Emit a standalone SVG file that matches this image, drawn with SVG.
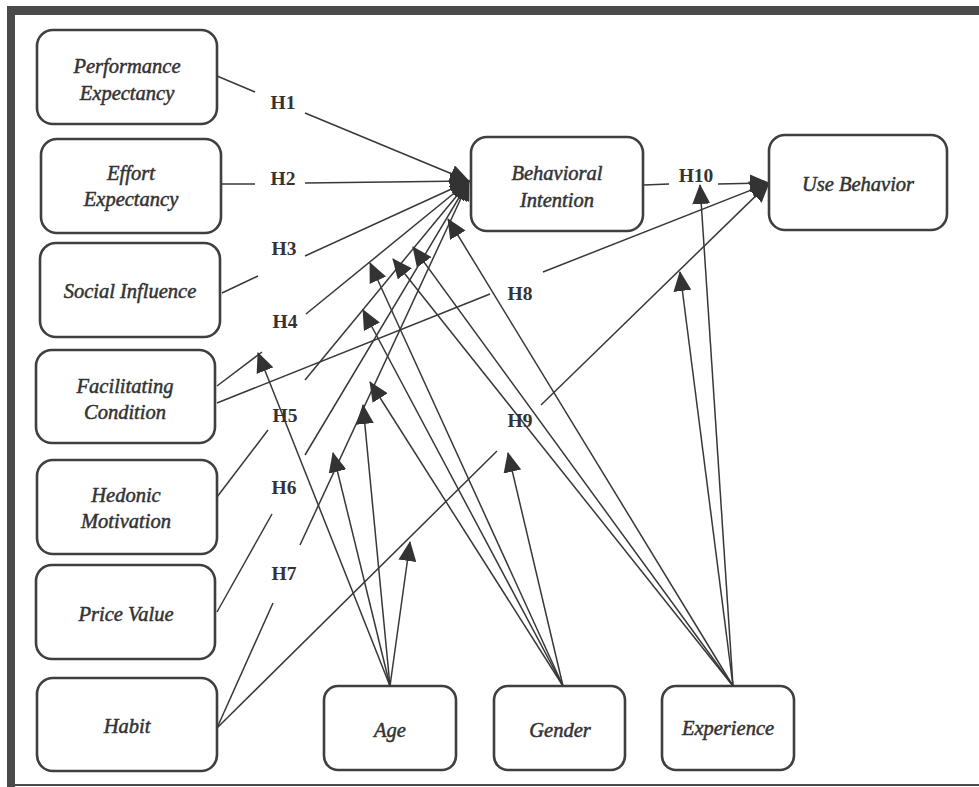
<svg xmlns="http://www.w3.org/2000/svg" width="979" height="787" viewBox="0 0 979 787">
<defs>
<style>
.box{fill:#fff;stroke:#3f3f3f;stroke-width:2.6}
.t{font-family:"Liberation Serif","Times New Roman",serif;font-style:italic;font-size:20.5px;fill:#333;text-anchor:middle;stroke:#333;stroke-width:0.5}
.h{font-family:"Liberation Serif","Times New Roman",serif;font-weight:bold;font-size:19.5px;fill:#333;text-anchor:middle}
.c line{stroke:#383838;stroke-width:1.5;fill:none}
.c .a{marker-end:url(#ah)}
</style>
<marker id="ah" markerWidth="20" markerHeight="18" refX="19" refY="9" orient="auto" markerUnits="userSpaceOnUse"><path d="M0,0 L20,9 L0,18 z" fill="#333"/></marker>
</defs>
<rect x="0" y="0" width="979" height="787" fill="#fff"/>
<g id="frame" fill="#4a4a4a">
<rect x="7" y="6" width="972" height="9"/>
<rect x="7" y="6" width="8" height="781"/>
<rect x="7" y="784" width="972" height="2"/>
</g>
<g id="connectors" class="c">
<line x1="217" y1="76" x2="255" y2="92"/>
<line x1="221" y1="184" x2="255" y2="184"/>
<line x1="222" y1="293" x2="258" y2="276"/>
<line x1="217" y1="386" x2="262" y2="352"/>
<line x1="217" y1="403" x2="490" y2="294"/>
<line x1="217" y1="497" x2="268" y2="430"/>
<line x1="217" y1="612" x2="272" y2="514"/>
<line x1="217" y1="728" x2="273" y2="603"/>
<line x1="217" y1="728" x2="497" y2="451"/>
<line x1="644" y1="185" x2="669" y2="184"/>
<line class="a" x1="305" y1="113" x2="469" y2="181"/>
<line class="a" x1="305" y1="183" x2="469" y2="181"/>
<line class="a" x1="305" y1="256" x2="469" y2="181"/>
<line class="a" x1="306" y1="314" x2="469" y2="181"/>
<line class="a" x1="305" y1="380" x2="469" y2="181"/>
<line class="a" x1="305" y1="455" x2="469" y2="181"/>
<line class="a" x1="300" y1="545" x2="469" y2="181"/>
<line class="a" x1="543" y1="272" x2="769" y2="183"/>
<line class="a" x1="541" y1="405" x2="769" y2="183"/>
<line class="a" x1="718" y1="184" x2="769" y2="183"/>
<line class="a" x1="390" y1="686" x2="258" y2="353"/>
<line class="a" x1="390" y1="686" x2="333" y2="453"/>
<line class="a" x1="390" y1="686" x2="363" y2="405"/>
<line class="a" x1="390" y1="686" x2="410" y2="542"/>
<line class="a" x1="563" y1="686" x2="370" y2="382"/>
<line class="a" x1="563" y1="686" x2="363" y2="310"/>
<line class="a" x1="563" y1="686" x2="370" y2="263"/>
<line class="a" x1="563" y1="686" x2="508" y2="453"/>
<line class="a" x1="733" y1="686" x2="393" y2="259"/>
<line class="a" x1="733" y1="686" x2="413" y2="247"/>
<line class="a" x1="733" y1="686" x2="448" y2="219"/>
<line class="a" x1="733" y1="686" x2="680" y2="272"/>
<line class="a" x1="733" y1="686" x2="700" y2="185"/>
</g>
<g id="labels">
<text class="h" x="283" y="109">H1</text>
<text class="h" x="283" y="185">H2</text>
<text class="h" x="284" y="255">H3</text>
<text class="h" x="285" y="328">H4</text>
<text class="h" x="285" y="422">H5</text>
<text class="h" x="284" y="494">H6</text>
<text class="h" x="284" y="580">H7</text>
<text class="h" x="520" y="300">H8</text>
<text class="h" x="520" y="427" font-weight="normal">H9</text>
<text class="h" x="696" y="182">H10</text>
</g>
<g id="pe"><rect class="box" x="37" y="30" width="180" height="94" rx="16"/><text class="t" x="127" y="73">Performance</text><text class="t" x="127" y="100">Expectancy</text></g>
<g id="ee"><rect class="box" x="41" y="139" width="180" height="94" rx="16"/><text class="t" x="131" y="180">Effort</text><text class="t" x="131" y="206">Expectancy</text></g>
<g id="si"><rect class="box" x="40" y="243" width="180" height="94" rx="16"/><text class="t" x="130" y="298">Social Influence</text></g>
<g id="fc"><rect class="box" x="36" y="350" width="179" height="93" rx="16"/><text class="t" x="125" y="393">Facilitating</text><text class="t" x="125" y="419">Condition</text></g>
<g id="hm"><rect class="box" x="37" y="460" width="180" height="94" rx="16"/><text class="t" x="126" y="502">Hedonic</text><text class="t" x="126" y="528">Motivation</text></g>
<g id="pv"><rect class="box" x="36" y="565" width="179" height="94" rx="16"/><text class="t" x="126" y="621">Price Value</text></g>
<g id="hb"><rect class="box" x="37" y="678" width="180" height="93" rx="16"/><text class="t" x="127" y="733">Habit</text></g>
<g id="bi"><rect class="box" x="471" y="137" width="172" height="94" rx="16"/><text class="t" x="557" y="180">Behavioral</text><text class="t" x="557" y="207">Intention</text></g>
<g id="ub"><rect class="box" x="769" y="135" width="178" height="95" rx="16"/><text class="t" x="858" y="191">Use Behavior</text></g>
<g id="age"><rect class="box" x="324" y="686" width="132" height="84" rx="14"/><text class="t" x="390" y="737">Age</text></g>
<g id="gender"><rect class="box" x="494" y="686" width="131" height="84" rx="14"/><text class="t" x="560" y="737">Gender</text></g>
<g id="exp"><rect class="box" x="662" y="686" width="132" height="84" rx="14"/><text class="t" x="728" y="735">Experience</text></g>
</svg>
